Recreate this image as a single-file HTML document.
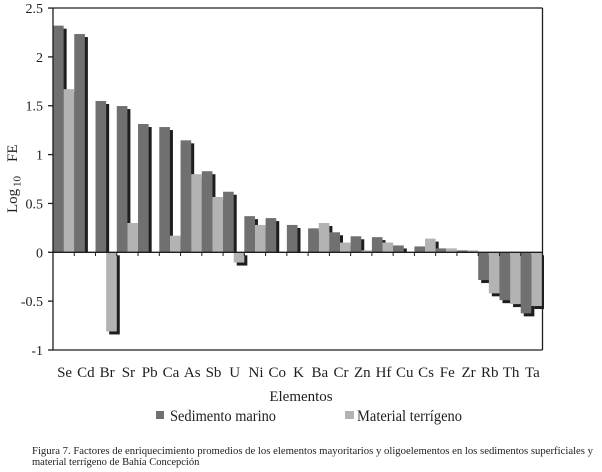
<!DOCTYPE html>
<html><head><meta charset="utf-8"><style>
html,body{margin:0;padding:0;background:#fff;}
body{width:602px;height:472px;overflow:hidden;}
svg{display:block;}
text{font-family:"Liberation Serif","Times New Roman",serif;fill:#1e1e1e;}
</style></head><body>
<svg width="602" height="472" viewBox="0 0 602 472" xmlns="http://www.w3.org/2000/svg">
<!-- shadows -->
<g fill="#1e1e1e">
<rect x="56" y="28.64" width="10.63" height="223.66"/>
<rect x="66.63" y="92.14" width="10.63" height="160.16"/>
<rect x="77.26" y="37.04" width="10.63" height="215.26"/>
<rect x="98.52" y="103.96" width="10.63" height="148.34"/>
<rect x="109.15" y="255.3" width="10.63" height="79.14"/>
<rect x="119.78" y="109.04" width="10.63" height="143.26"/>
<rect x="130.41" y="225.99" width="10.63" height="26.31"/>
<rect x="141.04" y="127.02" width="10.63" height="125.28"/>
<rect x="162.3" y="130.05" width="10.63" height="122.25"/>
<rect x="172.93" y="238.69" width="10.63" height="13.61"/>
<rect x="183.56" y="143.34" width="10.63" height="108.96"/>
<rect x="194.19" y="177.14" width="10.63" height="75.16"/>
<rect x="204.82" y="174.21" width="10.63" height="78.09"/>
<rect x="215.45" y="200" width="10.63" height="52.3"/>
<rect x="226.08" y="194.73" width="10.63" height="57.57"/>
<rect x="236.71" y="255.3" width="10.63" height="10.26"/>
<rect x="247.34" y="219.15" width="10.63" height="33.15"/>
<rect x="257.97" y="227.94" width="10.63" height="24.36"/>
<rect x="268.6" y="221.1" width="10.63" height="31.2"/>
<rect x="289.86" y="227.94" width="10.63" height="24.36"/>
<rect x="311.12" y="231.36" width="10.63" height="20.94"/>
<rect x="321.75" y="225.99" width="10.63" height="26.31"/>
<rect x="332.38" y="235.27" width="10.63" height="17.03"/>
<rect x="343.01" y="245.53" width="10.63" height="6.77"/>
<rect x="353.64" y="239.28" width="10.63" height="13.02"/>
<rect x="374.9" y="240.16" width="10.63" height="12.14"/>
<rect x="385.53" y="245.53" width="10.63" height="6.77"/>
<rect x="396.16" y="248.46" width="10.63" height="3.84"/>
<rect x="428.05" y="241.62" width="10.63" height="10.68"/>
<rect x="449.31" y="251.39" width="10.63" height="0.91"/>
<rect x="481.2" y="255.3" width="10.63" height="27.75"/>
<rect x="491.83" y="255.3" width="10.63" height="41.03"/>
<rect x="502.46" y="255.3" width="10.63" height="47.87"/>
<rect x="513.09" y="255.3" width="10.63" height="51.78"/>
<rect x="523.72" y="255.3" width="10.63" height="61.06"/>
<rect x="534.35" y="255.3" width="9.65" height="53.74"/>
</g>
<!-- Sedimento marino -->
<g fill="#707070">
<rect x="53" y="25.64" width="10.63" height="226.66"/>
<rect x="74.26" y="34.04" width="10.63" height="218.26"/>
<rect x="95.52" y="100.96" width="10.63" height="151.34"/>
<rect x="116.78" y="106.04" width="10.63" height="146.26"/>
<rect x="138.04" y="124.02" width="10.63" height="128.28"/>
<rect x="159.3" y="127.05" width="10.63" height="125.25"/>
<rect x="180.56" y="140.34" width="10.63" height="111.96"/>
<rect x="201.82" y="171.21" width="10.63" height="81.09"/>
<rect x="223.08" y="191.73" width="10.63" height="60.57"/>
<rect x="244.34" y="216.15" width="10.63" height="36.15"/>
<rect x="265.6" y="218.1" width="10.63" height="34.2"/>
<rect x="286.86" y="224.94" width="10.63" height="27.36"/>
<rect x="308.12" y="228.36" width="10.63" height="23.94"/>
<rect x="329.38" y="232.27" width="10.63" height="20.03"/>
<rect x="350.64" y="236.28" width="10.63" height="16.02"/>
<rect x="371.9" y="237.16" width="10.63" height="15.14"/>
<rect x="393.16" y="245.46" width="10.63" height="6.84"/>
<rect x="414.42" y="246.44" width="10.63" height="5.86"/>
<rect x="435.68" y="248.39" width="10.63" height="3.91"/>
<rect x="456.94" y="250.35" width="10.63" height="1.95"/>
<rect x="478.2" y="252.3" width="10.63" height="27.75"/>
<rect x="499.46" y="252.3" width="10.63" height="47.87"/>
<rect x="520.72" y="252.3" width="10.63" height="61.06"/>
</g>
<!-- Material terrigeno -->
<g fill="#b3b3b3">
<rect x="63.63" y="89.14" width="10.63" height="163.16"/>
<rect x="106.15" y="252.3" width="10.63" height="79.14"/>
<rect x="127.41" y="222.99" width="10.63" height="29.31"/>
<rect x="169.93" y="235.69" width="10.63" height="16.61"/>
<rect x="191.19" y="174.14" width="10.63" height="78.16"/>
<rect x="212.45" y="197" width="10.63" height="55.3"/>
<rect x="233.71" y="252.3" width="10.63" height="10.26"/>
<rect x="254.97" y="224.94" width="10.63" height="27.36"/>
<rect x="318.75" y="222.99" width="10.63" height="29.31"/>
<rect x="340.01" y="242.53" width="10.63" height="9.77"/>
<rect x="361.27" y="250.35" width="10.63" height="1.95"/>
<rect x="382.53" y="242.53" width="10.63" height="9.77"/>
<rect x="425.05" y="238.62" width="10.63" height="13.68"/>
<rect x="446.31" y="248.39" width="10.63" height="3.91"/>
<rect x="467.57" y="250.35" width="10.63" height="1.95"/>
<rect x="488.83" y="252.3" width="10.63" height="41.03"/>
<rect x="510.09" y="252.3" width="10.63" height="51.78"/>
<rect x="531.35" y="252.3" width="10.63" height="53.74"/>
</g>
<!-- frame & axes -->
<g stroke="#1e1e1e" stroke-width="1.3" fill="none">
<line x1="53" y1="8" x2="542.5" y2="8"/>
<line x1="542.5" y1="8" x2="542.5" y2="350"/>
<line x1="53" y1="350" x2="542.5" y2="350"/>
<line x1="53" y1="8" x2="53" y2="350"/>
<line x1="53" y1="252.3" x2="542.5" y2="252.3"/>
<line x1="48" y1="8.05" x2="53" y2="8.05"/>
<line x1="48" y1="56.9" x2="53" y2="56.9"/>
<line x1="48" y1="105.75" x2="53" y2="105.75"/>
<line x1="48" y1="154.6" x2="53" y2="154.6"/>
<line x1="48" y1="203.45" x2="53" y2="203.45"/>
<line x1="48" y1="252.3" x2="53" y2="252.3"/>
<line x1="48" y1="301.15" x2="53" y2="301.15"/>
<line x1="48" y1="350" x2="53" y2="350"/>
</g>
<!-- category ticks -->
<g stroke="#1e1e1e" stroke-width="1">
<line x1="74.26" y1="252" x2="74.26" y2="256"/>
<line x1="95.52" y1="252" x2="95.52" y2="256"/>
<line x1="116.78" y1="252" x2="116.78" y2="256"/>
<line x1="138.04" y1="252" x2="138.04" y2="256"/>
<line x1="159.3" y1="252" x2="159.3" y2="256"/>
<line x1="180.56" y1="252" x2="180.56" y2="256"/>
<line x1="201.82" y1="252" x2="201.82" y2="256"/>
<line x1="223.08" y1="252" x2="223.08" y2="256"/>
<line x1="244.34" y1="252" x2="244.34" y2="256"/>
<line x1="265.6" y1="252" x2="265.6" y2="256"/>
<line x1="286.86" y1="252" x2="286.86" y2="256"/>
<line x1="308.12" y1="252" x2="308.12" y2="256"/>
<line x1="329.38" y1="252" x2="329.38" y2="256"/>
<line x1="350.64" y1="252" x2="350.64" y2="256"/>
<line x1="371.9" y1="252" x2="371.9" y2="256"/>
<line x1="393.16" y1="252" x2="393.16" y2="256"/>
<line x1="414.42" y1="252" x2="414.42" y2="256"/>
<line x1="435.68" y1="252" x2="435.68" y2="256"/>
<line x1="456.94" y1="252" x2="456.94" y2="256"/>
<line x1="478.2" y1="252" x2="478.2" y2="256"/>
<line x1="499.46" y1="252" x2="499.46" y2="256"/>
<line x1="520.72" y1="252" x2="520.72" y2="256"/>
</g>
<!-- y tick labels -->
<g font-size="14" text-anchor="end">
<text x="43" y="13">2.5</text>
<text x="43" y="61.9">2</text>
<text x="43" y="110.7">1.5</text>
<text x="43" y="159.6">1</text>
<text x="43" y="208.4">0.5</text>
<text x="43" y="257.3">0</text>
<text x="43" y="306.1">-0.5</text>
<text x="43" y="355">-1</text>
</g>
<!-- y axis title -->
<g transform="translate(17,0) rotate(-90)" font-size="15">
<text x="-213" y="0">Log</text>
<text x="-187" y="3.5" font-size="11">10</text>
<text x="-162" y="0">FE</text>
</g>
<!-- x labels -->
<g font-size="15" text-anchor="middle">
<text x="64.6" y="377">Se</text>
<text x="85.9" y="377">Cd</text>
<text x="107.1" y="377">Br</text>
<text x="128.4" y="377">Sr</text>
<text x="149.7" y="377">Pb</text>
<text x="170.9" y="377">Ca</text>
<text x="192.2" y="377">As</text>
<text x="213.5" y="377">Sb</text>
<text x="234.7" y="377">U</text>
<text x="256" y="377">Ni</text>
<text x="277.2" y="377">Co</text>
<text x="298.5" y="377">K</text>
<text x="319.8" y="377">Ba</text>
<text x="341" y="377">Cr</text>
<text x="362.3" y="377">Zn</text>
<text x="383.5" y="377">Hf</text>
<text x="404.8" y="377">Cu</text>
<text x="426.1" y="377">Cs</text>
<text x="447.3" y="377">Fe</text>
<text x="468.6" y="377">Zr</text>
<text x="489.8" y="377">Rb</text>
<text x="511.1" y="377">Th</text>
<text x="532.4" y="377">Ta</text>
</g>
<text x="301" y="401" font-size="15" text-anchor="middle">Elementos</text>
<!-- legend -->
<rect x="156" y="411" width="8" height="8" fill="#707070"/>
<text x="170" y="421" font-size="15.5" textLength="106" lengthAdjust="spacingAndGlyphs">Sedimento marino</text>
<rect x="345" y="411" width="9" height="8" fill="#b3b3b3"/>
<text x="357" y="421" font-size="15.5" textLength="105" lengthAdjust="spacingAndGlyphs">Material terrígeno</text>
<!-- caption -->
<text x="32" y="454" font-size="10.5" fill="#111" textLength="561" lengthAdjust="spacingAndGlyphs">Figura 7. Factores de enriquecimiento promedios de los elementos mayoritarios y oligoelementos en los sedimentos superficiales y</text>
<text x="32" y="465" font-size="10.5" fill="#111">material terrígeno de Bahía Concepción</text>
</svg>
</body></html>
